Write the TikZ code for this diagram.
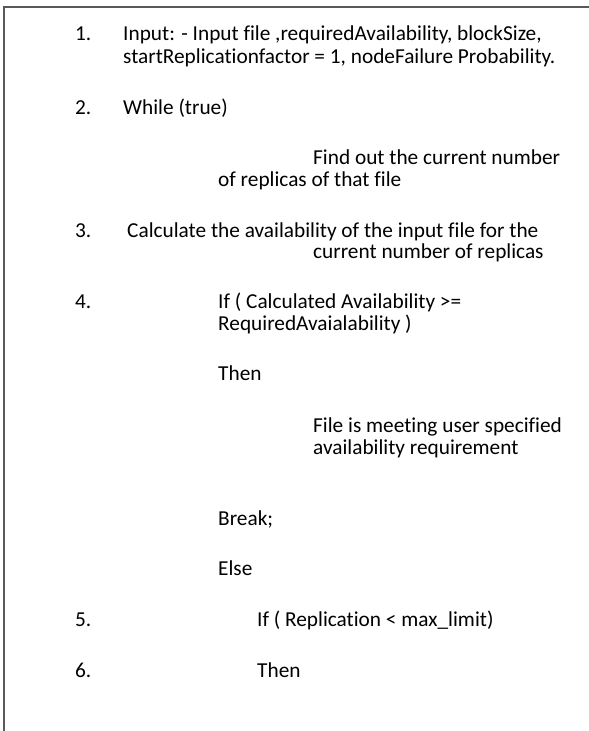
\documentclass[tikz,border=0pt]{standalone}
\usepackage{fontspec}
\setmainfont{Carlito}[Ligatures=NoCommon]

\tikzset{
    txt/.style={anchor=base west, inner sep=0pt, font=\fontsize{21.3}{25}\selectfont},
}

\begin{document}
\begin{tikzpicture}[x=1pt,y=-1pt]
    \useasboundingbox (0,0) rectangle (589,731);

    %% frame, only top and left edges
    \draw[black!65, line width=1.2pt] (4,731) -- (4,7) -- (589,7);

    % step numbers
    \foreach \n/\y in {1/40,2/114,3/237,4/308,5/626,6/677}
        \node[txt] (num\n) at (75,\y) {\n.};

    % step 1
    \node[txt] (input) at (123,40) {Input: - Input file ,requiredAvailability, blockSize,};
    \node[txt] (input2) at (123,63) {startReplicationfactor = 1, nodeFailure Probability.};

    % step 2
    \node[txt] (while) at (123,114) {While (true)};
    \node[txt] (find) at (313,164) {Find out the current number};
    \node[txt] (find2) at (218,186) {of replicas of that file};

    % step 3
    \node[txt] (calc) at (127,237) {Calculate the availability of the input file for the};
    \node[txt] (calc2) at (313,258) {current number of replicas};

    % step 4
    \node[txt] (ifavail) at (218,308) {If ( Calculated Availability >=};
    \node[txt] (ifavail2) at (218,330) {RequiredAvaialability )};
    \node[txt] (then1) at (218,380) {Then};
    \node[txt] (meet) at (313,432) {File is meeting user specified};
    \node[txt] (meet2) at (313,454) {availability requirement};
    \node[txt] (break) at (218,525) {Break;};
    \node[txt] (else) at (218,575) {Else};

    % steps 5 and 6
    \node[txt] (ifrep) at (257,626) {If ( Replication < max\_limit)};
    \node[txt] (then2) at (257,677) {Then};
\end{tikzpicture}
\end{document}
